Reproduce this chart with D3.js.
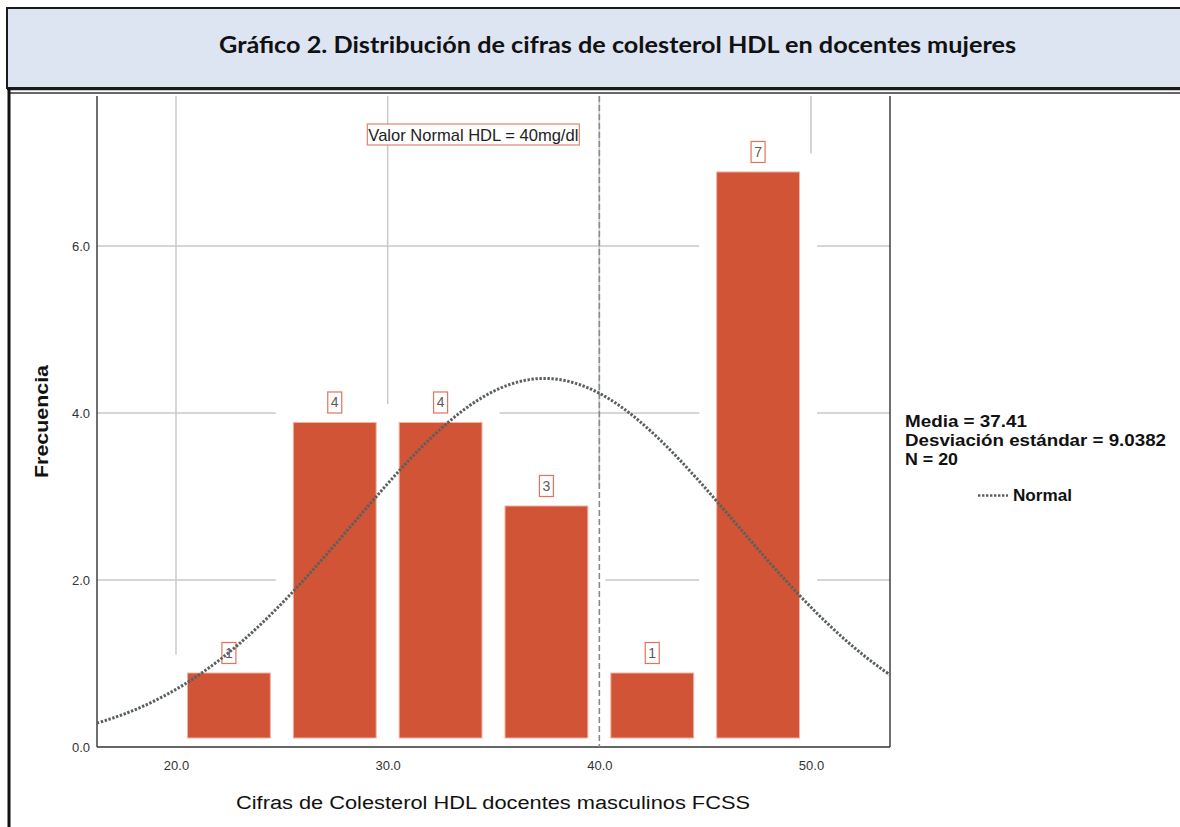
<!DOCTYPE html>
<html>
<head>
<meta charset="utf-8">
<script src="https://cdn.jsdelivr.net/npm/d3@7/dist/d3.min.js"></script>
<style>
  html, body { margin: 0; padding: 0; background: #fff; }
  svg { display: block; }
</style>
</head>
<body>
<svg id="chart" width="1180" height="827"></svg>
<script>
// ---- data ----
const binStarts = [20, 25, 30, 35, 40, 45];
const binWidth = 5;
const counts = [1, 4, 4, 3, 1, 7];
const xTicks = [20, 30, 40, 50];
const yTicks = [0, 2, 4, 6];
const refValue = 40;
const refLabel = "Valor Normal HDL = 40mg/dl";
const meanVal = 37.41;
const sdVal = 9.0382;
const nVal = 20;
const titleText = "Gráfico 2. Distribución de cifras de colesterol HDL en docentes mujeres";
const xTitle = "Cifras de Colesterol HDL docentes masculinos FCSS";
const yTitle = "Frecuencia";
const legendLines = ["Media = 37.41", "Desviación estándar = 9.0382", "N = 20"];
const legendCurve = "Normal";

// ---- layout ----
const svg = d3.select("#chart");
const plot = { left: 97, right: 890, top: 96, bottom: 747 };

const x = d3.scaleLinear().domain([16.268, 53.732]).range([plot.left, plot.right]);
const y = d3.scaleLinear().domain([0, 7.796]).range([plot.bottom, plot.top]);

// title box
svg.append("rect").attr("x", 7).attr("y", 8).attr("width", 1185).attr("height", 80)
  .attr("fill", "#dde4f2").attr("stroke", "#1a1a1a").attr("stroke-width", 2);
svg.append("text").attr("x", 219).attr("y", 53)
  .attr("font-family", "Lato, 'Open Sans', sans-serif").attr("font-weight", "bold")
  .attr("font-size", 22).attr("fill", "#111")
  .attr("textLength", 797).attr("lengthAdjust", "spacingAndGlyphs")
  .text(titleText);
// double line under title
svg.append("line").attr("x1", 7).attr("x2", 1180).attr("y1", 89).attr("y2", 89)
  .attr("stroke", "#1a1a1a").attr("stroke-width", 2.5);
svg.append("line").attr("x1", 9).attr("x2", 1180).attr("y1", 93).attr("y2", 93)
  .attr("stroke", "#333").attr("stroke-width", 1.3);
// left frame border
svg.append("line").attr("x1", 9).attr("x2", 9).attr("y1", 88).attr("y2", 827)
  .attr("stroke", "#111").attr("stroke-width", 3);

const g = svg.append("g");

// gridlines
g.selectAll(".vgrid").data(xTicks).join("line")
  .attr("x1", d => x(d)).attr("x2", d => x(d))
  .attr("y1", plot.top).attr("y2", plot.bottom)
  .attr("stroke", "#c9c9c9").attr("stroke-width", 1.5);
g.selectAll(".hgrid").data(yTicks.filter(d => d > 0)).join("line")
  .attr("x1", plot.left).attr("x2", plot.right)
  .attr("y1", d => y(d)).attr("y2", d => y(d))
  .attr("stroke", "#c9c9c9").attr("stroke-width", 1.5);

const bins = binStarts.map((s, i) => ({ x0: s, x1: s + binWidth, n: counts[i] }));

// white backgrounds of bar elements (hide gridlines)
g.selectAll(".bg").data(bins).join("rect")
  .attr("x", d => x(d.x0) - 6).attr("width", d => x(d.x1) - x(d.x0) + 12)
  .attr("y", d => y(d.n) - 9).attr("height", d => y(0) - y(d.n) + 9)
  .attr("fill", "#fff");

// bars
const inset = 11.5;
g.selectAll(".bar").data(bins).join("rect")
  .attr("x", d => x(d.x0) + inset).attr("width", d => x(d.x1) - x(d.x0) - 2 * inset)
  .attr("y", d => y(d.n) + 9.5).attr("height", d => y(0) - y(d.n) - 18.5)
  .attr("fill", "#d05435").attr("stroke", "#f1b3a3").attr("stroke-width", 1);

// axes lines
g.append("line").attr("x1", plot.left).attr("x2", plot.left).attr("y1", plot.top).attr("y2", plot.bottom)
  .attr("stroke", "#222").attr("stroke-width", 1.3);
g.append("line").attr("x1", plot.right).attr("x2", plot.right).attr("y1", plot.top).attr("y2", plot.bottom)
  .attr("stroke", "#222").attr("stroke-width", 1.3);
g.append("line").attr("x1", plot.left).attr("x2", plot.right).attr("y1", plot.bottom).attr("y2", plot.bottom)
  .attr("stroke", "#333").attr("stroke-width", 1.5);

// reference line
g.append("line").attr("x1", x(refValue)).attr("x2", x(refValue))
  .attr("y1", plot.top).attr("y2", plot.bottom)
  .attr("stroke", "#8a8a8a").attr("stroke-width", 1.6).attr("stroke-dasharray", "6,3");

// reference label
const refBoxRight = x(refValue) - 20;
g.append("rect").attr("x", refBoxRight - 212).attr("y", 124).attr("width", 212).attr("height", 21)
  .attr("fill", "#fff").attr("stroke", "#e7826c").attr("stroke-width", 1.2);
g.append("text").attr("x", refBoxRight - 211).attr("y", 141)
  .attr("font-family", "'Liberation Sans', Arial, sans-serif").attr("font-size", 17).attr("fill", "#222")
  .attr("textLength", 210).attr("lengthAdjust", "spacingAndGlyphs")
  .text(refLabel);

// count labels
const lbl = g.selectAll(".lbl").data(bins).join("g");
lbl.append("rect")
  .attr("x", d => x(d.x0 + binWidth / 2) - 7).attr("y", d => y(d.n) - 21)
  .attr("width", 14).attr("height", 21)
  .attr("fill", "#fff").attr("stroke", "#e4735c").attr("stroke-width", 1.2);
lbl.append("text")
  .attr("x", d => x(d.x0 + binWidth / 2)).attr("y", d => y(d.n) - 5.5)
  .attr("text-anchor", "middle")
  .attr("font-family", "'Liberation Sans', Arial, sans-serif").attr("font-size", 14).attr("fill", "#5a5a5a")
  .text(d => d.n);

// normal curve (from the reported mean, SD and N)
const scaleN = nVal * binWidth / (sdVal * Math.sqrt(2 * Math.PI));
const dom = x.domain();
const curvePts = d3.range(0, 201).map(i => {
  const v = dom[0] + (dom[1] - dom[0]) * i / 200;
  const z = (v - meanVal) / sdVal;
  return [v, scaleN * Math.exp(-0.5 * z * z)];
});
g.append("path").datum(curvePts)
  .attr("d", d3.line().x(d => x(d[0])).y(d => y(d[1])).curve(d3.curveBasis))
  .attr("fill", "none").attr("stroke", "#59615e").attr("stroke-width", 3)
  .attr("stroke-dasharray", "2.4,1.6");

// tick labels
const xAxis = d3.axisBottom(x).tickValues(xTicks).tickSize(0).tickPadding(0).tickFormat(d3.format(".1f"));
const xa = svg.append("g").attr("transform", `translate(0,${plot.bottom})`).call(xAxis);
xa.select(".domain").remove();
xa.attr("font-size", 13);
xa.selectAll("text").attr("y", 23).attr("dy", null)
  .attr("font-family", "'Liberation Sans', Arial, sans-serif").attr("font-size", 13).attr("fill", "#333");

const yAxis = d3.axisLeft(y).tickValues(yTicks).tickSize(0).tickPadding(0).tickFormat(d3.format(".1f"));
const ya = svg.append("g").attr("transform", `translate(${plot.left},0)`).call(yAxis);
ya.select(".domain").remove();
ya.attr("font-size", 13);
ya.selectAll("text").attr("x", -7).attr("dy", "0.55em").attr("y", -3)
  .attr("font-family", "'Liberation Sans', Arial, sans-serif").attr("font-size", 13).attr("fill", "#333");

// axis titles
svg.append("text").attr("x", 236).attr("y", 809)
  .attr("font-family", "'Liberation Sans', Arial, sans-serif").attr("font-size", 18).attr("fill", "#111")
  .attr("textLength", 514).attr("lengthAdjust", "spacingAndGlyphs")
  .text(xTitle);
svg.append("text").attr("transform", "translate(48,478) rotate(-90)")
  .attr("font-family", "'Liberation Sans', Arial, sans-serif").attr("font-size", 18)
  .attr("font-weight", "bold").attr("fill", "#111")
  .attr("textLength", 113).attr("lengthAdjust", "spacingAndGlyphs")
  .text(yTitle);

// legend
const legWidths = [122, 261, 53];
const legBase = [427, 446, 465];
legendLines.forEach((t, i) => {
  svg.append("text").attr("x", 905).attr("y", legBase[i])
    .attr("font-family", "'Liberation Sans', Arial, sans-serif").attr("font-size", 17)
    .attr("font-weight", "bold").attr("fill", "#111")
    .attr("textLength", legWidths[i]).attr("lengthAdjust", "spacingAndGlyphs")
    .text(t);
});
svg.append("line").attr("x1", 978).attr("x2", 1008).attr("y1", 495.5).attr("y2", 495.5)
  .attr("stroke", "#59615e").attr("stroke-width", 2.5).attr("stroke-dasharray", "2.4,1.6");
svg.append("text").attr("x", 1013).attr("y", 501)
  .attr("font-family", "'Liberation Sans', Arial, sans-serif").attr("font-size", 16)
  .attr("font-weight", "bold").attr("fill", "#111")
  .attr("textLength", 59).attr("lengthAdjust", "spacingAndGlyphs")
  .text(legendCurve);
</script>
</body>
</html>
